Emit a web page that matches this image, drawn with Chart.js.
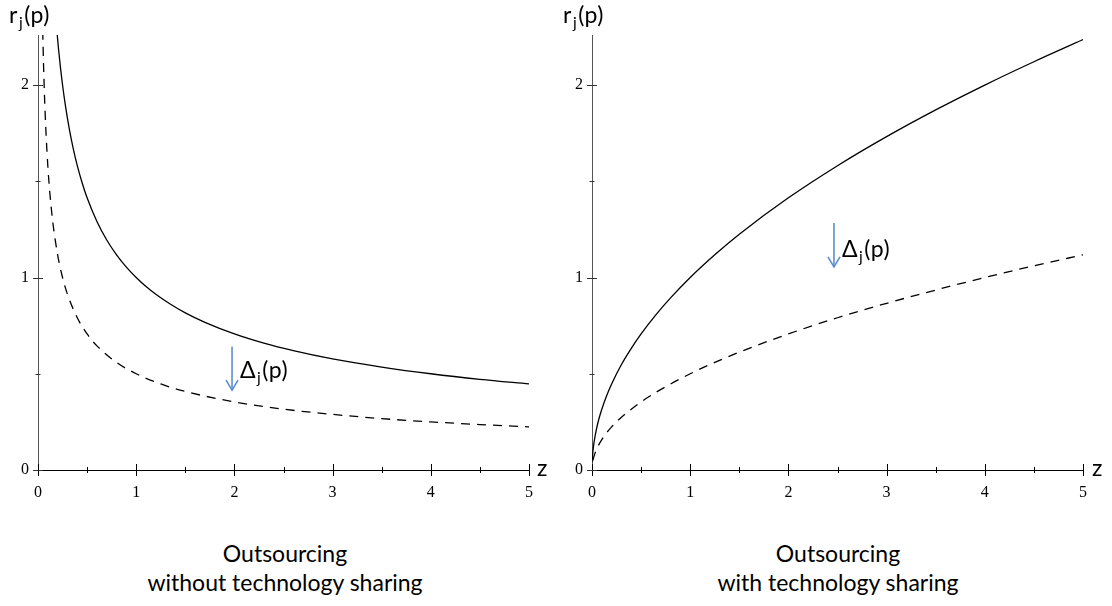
<!DOCTYPE html>
<html>
<head>
<meta charset="utf-8">
<script src="https://cdn.jsdelivr.net/npm/chart.js@4/dist/chart.umd.min.js"></script>
<style>
  body { margin: 0; background: #fff; width: 1112px; height: 606px; position: relative; overflow: hidden; }
  canvas { position: absolute; top: 0; }
  .t { position: absolute; font-family: Lato, "Open Sans", sans-serif; color: #000; line-height: 1.2; white-space: nowrap; letter-spacing: 0.5px; }
  .t sub { font-size: 0.68em; vertical-align: -0.32em; line-height: 0; margin: 0 1px; }
  .cap { position: absolute; font-family: Lato, sans-serif; font-size: 23px; line-height: 29px; text-align: center; width: 400px; color: #000; }
</style>
</head>
<body>
<canvas id="left" width="556" height="510" style="left:0"></canvas>
<canvas id="right" width="556" height="510" style="left:556px"></canvas>

<div class="t" style="left:9px;top:1px;font-size:23px">r<sub>j</sub>(p)</div>
<div class="t" style="left:563px;top:1px;font-size:23px">r<sub>j</sub>(p)</div>
<div class="t" style="left:537px;top:454px;font-size:23px">z</div>
<div class="t" style="left:1092px;top:454px;font-size:23px">z</div>
<div class="t" style="left:240px;top:356px;font-size:23px">&Delta;<sub>j</sub>(p)</div>
<div class="t" style="left:842px;top:235px;font-size:23px">&Delta;<sub>j</sub>(p)</div>

<div class="cap" style="left:85px;top:539px">Outsourcing<br>without technology sharing</div>
<div class="cap" style="left:638px;top:539px">Outsourcing<br>with technology sharing</div>

<script>
// axis ticks (minor every 0.5, labels on integers)
const xTicks = [0, 0.5, 1, 1.5, 2, 2.5, 3, 3.5, 4, 4.5, 5];
const yTicks = [0, 0.5, 1, 1.5, 2];

// left panel: without technology sharing
const zSolidL = [0.19, 0.21, 0.23, 0.25, 0.28, 0.32, 0.36, 0.4, 0.45, 0.5, 0.6, 0.7, 0.8, 0.9, 1.0, 1.1, 1.2, 1.35, 1.5, 1.7, 2.0, 2.3, 2.6, 3.0, 3.5, 4.0, 4.5, 5.0];
const rSolidL = [2.294, 2.182, 2.085, 2.0, 1.89, 1.768, 1.667, 1.581, 1.491, 1.414, 1.291, 1.195, 1.118, 1.054, 1.0, 0.953, 0.913, 0.861, 0.816, 0.767, 0.707, 0.659, 0.62, 0.577, 0.535, 0.5, 0.471, 0.447];
const zDashL = [0.048, 0.055, 0.065, 0.08, 0.1, 0.12, 0.15, 0.2, 0.25, 0.3, 0.4, 0.5, 0.6, 0.8, 1.0, 1.25, 1.5, 2.0, 2.5, 3.0, 3.5, 4.0, 4.5, 5.0];
const rDashL = [2.282, 2.132, 1.961, 1.768, 1.581, 1.443, 1.291, 1.118, 1.0, 0.913, 0.791, 0.707, 0.645, 0.559, 0.5, 0.447, 0.408, 0.354, 0.316, 0.289, 0.267, 0.25, 0.236, 0.224];

// right panel: with technology sharing
const zSolidR = [0, 0.005, 0.01, 0.02, 0.04, 0.07, 0.1, 0.15, 0.2, 0.3, 0.4, 0.5, 0.65, 0.8, 1.0, 1.25, 1.5, 2.0, 2.5, 3.0, 3.5, 4.0, 4.5, 5.0];
const rSolidR = [0.04, 0.071, 0.1, 0.141, 0.2, 0.265, 0.316, 0.387, 0.447, 0.548, 0.632, 0.707, 0.806, 0.894, 1.0, 1.118, 1.225, 1.414, 1.581, 1.732, 1.871, 2.0, 2.121, 2.236];
const zDashR = [0.01, 0.02, 0.04, 0.07, 0.1, 0.15, 0.2, 0.3, 0.4, 0.5, 0.65, 0.8, 1.0, 1.25, 1.5, 2.0, 2.5, 3.0, 3.5, 4.0, 4.5, 5.0];
const rDashR = [0.05, 0.071, 0.1, 0.132, 0.158, 0.194, 0.224, 0.274, 0.316, 0.354, 0.403, 0.447, 0.5, 0.559, 0.612, 0.707, 0.791, 0.866, 0.935, 1.0, 1.061, 1.118];

// down arrows marking the gap: [z, from r, to r]
const arrowL = [1.976, 0.64, 0.415];
const arrowR = [2.464, 1.283, 1.055];

const pts = (xs, ys) => xs.map((x, i) => ({x: x, y: ys[i]}));
const serif = "'Liberation Serif', 'Times New Roman', serif";

// tick marks that cross the axis, plus the blue arrow
const crossTicks = {
  id: 'crossTicks',
  afterDraw(chart, args, opts) {
    const ctx = chart.ctx, xs = chart.scales.x, ys = chart.scales.y;
    const x0 = xs.getPixelForValue(0), y0 = ys.getPixelForValue(0);
    ctx.save();
    ctx.lineWidth = 1;
    ctx.strokeStyle = '#000';
    xTicks.forEach(v => {
      const px = Math.round(xs.getPixelForValue(v)) + 0.5;
      const h = Number.isInteger(v) ? 6 : 3;
      ctx.beginPath(); ctx.moveTo(px, y0 - h); ctx.lineTo(px, y0 + h); ctx.stroke();
    });
    ctx.strokeStyle = '#333';
    yTicks.forEach(v => {
      const py = Math.round(ys.getPixelForValue(v)) + 0.5;
      const w = Number.isInteger(v) ? 5 : 2.5;
      ctx.beginPath(); ctx.moveTo(x0 - w, py); ctx.lineTo(x0 + w, py); ctx.stroke();
    });
    // arrow
    const a = opts.arrow;
    const ax = xs.getPixelForValue(a[0]), ay1 = ys.getPixelForValue(a[1]), ay2 = ys.getPixelForValue(a[2]);
    ctx.strokeStyle = '#5b8fcf';
    ctx.lineWidth = 1.6;
    ctx.beginPath(); ctx.moveTo(ax, ay1); ctx.lineTo(ax, ay2); ctx.stroke();
    ctx.beginPath(); ctx.moveTo(ax - 6, ay2 - 10); ctx.lineTo(ax, ay2); ctx.lineTo(ax + 6, ay2 - 10); ctx.stroke();
    ctx.restore();
  }
};

function makePanel(id, solid, dashed, padRight, yWidth, arrow) {
  return new Chart(document.getElementById(id), {
    type: 'line',
    data: {
      datasets: [
        { data: solid, borderColor: '#000', borderWidth: 1.3, pointRadius: 0, cubicInterpolationMode: 'monotone', fill: false },
        { data: dashed, borderColor: '#000', borderWidth: 1.3, borderDash: [9, 7], pointRadius: 0, cubicInterpolationMode: 'monotone', fill: false }
      ]
    },
    options: {
      responsive: false,
      animation: false,
      layout: { padding: { top: 35, right: padRight, left: 0, bottom: 0 } },
      plugins: { legend: { display: false }, tooltip: { enabled: false }, crossTicks: { arrow: arrow } },
      scales: {
        x: {
          type: 'linear', min: 0, max: 5,
          afterBuildTicks: s => { s.ticks = xTicks.map(v => ({value: v})); },
          afterFit: s => { s.height = 40; },
          grid: { display: false, drawTicks: false },
          border: { display: true, color: '#000', width: 1 },
          ticks: { autoSkip: false, maxRotation: 0, padding: 13, color: '#000',
                   font: { family: serif, size: 16 },
                   callback: v => Number.isInteger(v) ? v : '' }
        },
        y: {
          type: 'linear', min: 0, max: 2.26,
          afterBuildTicks: s => { s.ticks = yTicks.map(v => ({value: v})); },
          afterFit: s => { s.width = yWidth; },
          grid: { display: false, drawTicks: false },
          border: { display: true, color: '#555', width: 1 },
          ticks: { padding: 9, color: '#000',
                   font: { family: serif, size: 16 },
                   callback: v => Number.isInteger(v) ? v : '' }
        }
      }
    },
    plugins: [crossTicks]
  });
}

makePanel('left', pts(zSolidL, rSolidL), pts(zDashL, rDashL), 27, 38, arrowL);
makePanel('right', pts(zSolidR, rSolidR), pts(zDashR, rDashR), 29, 36, arrowR);
</script>
</body>
</html>
